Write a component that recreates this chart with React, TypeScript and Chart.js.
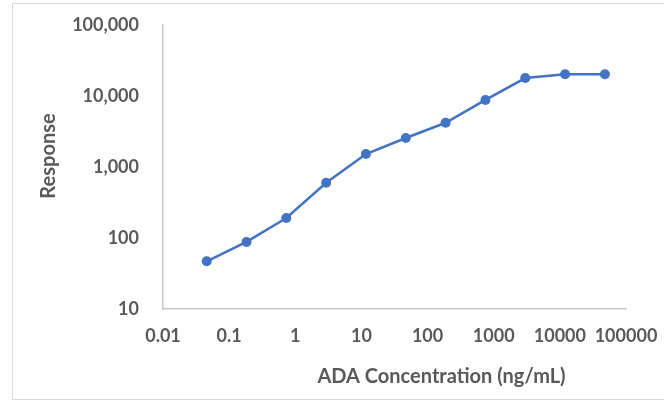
import React, { useEffect, useRef } from "react";
import { Chart, registerables } from "chart.js";

Chart.register(...registerables);

const concentrations = [0.0458, 0.183, 0.732, 2.93, 11.7, 46.9, 187.5, 750, 3000, 12000, 48000];
const responses = [47, 88, 191, 600, 1520, 2560, 4200, 8800, 17900, 20300, 20200];

const xTicks = [0.01, 0.1, 1, 10, 100, 1000, 10000, 100000];
const xTickLabels = ["0.01", "0.1", "1", "10", "100", "1000", "10000", "100000"];
const yTicks = [10, 100, 1000, 10000, 100000];
const yTickLabels = ["10", "100", "1,000", "10,000", "100,000"];

const xTitle = "ADA Concentration (ng/mL)";
const yTitle = "Response";

const FONT = 'Lato, "Open Sans", "Liberation Sans", sans-serif';
const TEXT = "#595959";
const AXIS = "#c8c8c8";
const BLUE = "#4472C4";

export default function App() {
  const ref = useRef<HTMLCanvasElement | null>(null);

  useEffect(() => {
    if (!ref.current) return;
    const titles = {
      id: "axisTitles",
      afterDraw(chart: any) {
        const { ctx, chartArea } = chart;
        ctx.save();
        ctx.fillStyle = TEXT;
        ctx.font = `bold 20px ${FONT}`;
        ctx.textAlign = "center";
        ctx.textBaseline = "middle";
        const cx = (chartArea.left + chartArea.right) / 2;
        ctx.fillText(xTitle, cx + 47, chartArea.bottom + 68);
        const cy = (chartArea.top + chartArea.bottom) / 2;
        ctx.translate(chartArea.left - 114, cy - 11);
        ctx.rotate(-Math.PI / 2);
        ctx.fillText(yTitle, 0, 0);
        ctx.restore();
      },
    };
    const chart = new Chart(ref.current, {
      type: "line",
      data: {
        datasets: [
          {
            data: concentrations.map((x, i) => ({ x, y: responses[i] })),
            borderColor: BLUE,
            backgroundColor: BLUE,
            borderWidth: 2.5,
            pointRadius: 5,
            pointBorderWidth: 0,
            pointBackgroundColor: BLUE,
            tension: 0,
          },
        ],
      },
      options: {
        animation: false,
        responsive: false,
        maintainAspectRatio: false,
        layout: { padding: { left: 0, top: 25, right: 38, bottom: 0 } },
        plugins: { legend: { display: false }, tooltip: { enabled: false } },
        scales: {
          x: {
            type: "logarithmic",
            min: 0.01,
            max: 100000,
            grid: { display: false, drawTicks: false },
            border: { display: true, color: AXIS, width: 1.5 },
            afterBuildTicks: (s: any) => {
              s.ticks = xTicks.map((v) => ({ value: v }));
            },
            afterFit: (s: any) => {
              s.height = 94;
              s.paddingLeft = 0;
              s.paddingRight = 0;
            },
            ticks: {
              autoSkip: false,
              maxRotation: 0,
              padding: 16,
              color: TEXT,
              font: { family: FONT, size: 18, weight: "bold" },
              callback: (v: any) => {
                const i = xTicks.indexOf(Number(v));
                return i >= 0 ? xTickLabels[i] : "";
              },
            },
          },
          y: {
            type: "logarithmic",
            min: 10,
            max: 100000,
            grid: { display: false, drawTicks: false },
            border: { display: true, color: AXIS, width: 1.5 },
            afterBuildTicks: (s: any) => {
              s.ticks = yTicks.map((v) => ({ value: v }));
            },
            afterFit: (s: any) => {
              s.width = 163;
              s.paddingTop = 0;
              s.paddingBottom = 0;
            },
            ticks: {
              autoSkip: false,
              padding: 24,
              color: TEXT,
              font: { family: FONT, size: 18, weight: "bold" },
              callback: (v: any) => {
                const i = yTicks.indexOf(Number(v));
                return i >= 0 ? yTickLabels[i] : "";
              },
            },
          },
        },
      },
      plugins: [titles],
    });
    return () => chart.destroy();
  }, []);

  return (
    <div style={{ position: "fixed", left: 0, top: 0, width: 664, height: 403, background: "#fff" }}>
      <div
        style={{
          position: "absolute",
          left: 12,
          top: 3,
          width: 660,
          height: 397,
          border: "1px solid #d9d9d9",
          boxSizing: "border-box",
        }}
      />
      <canvas ref={ref} width={664} height={403} style={{ position: "absolute", left: 0, top: 0 }} />
    </div>
  );
}
